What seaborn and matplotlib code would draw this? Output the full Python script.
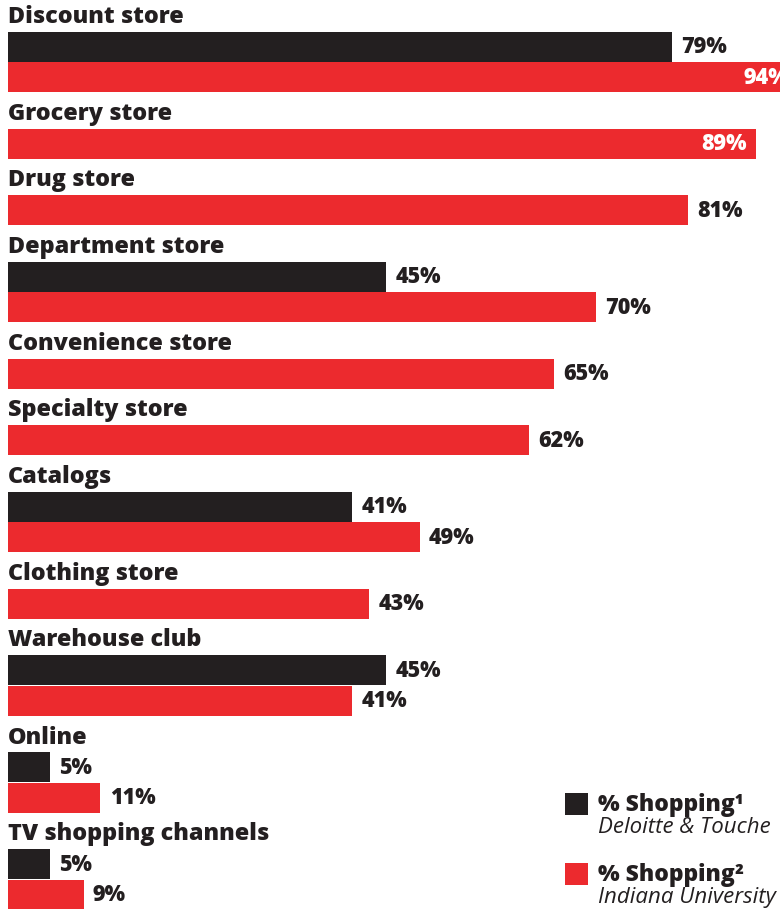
import numpy as np
import pandas as pd
import seaborn as sns
import matplotlib.pyplot as plt
from matplotlib.patches import Rectangle

# Where shoppers buy: share of respondents shopping at each channel
categories = ["Discount store", "Grocery store", "Drug store", "Department store",
              "Convenience store", "Specialty store", "Catalogs", "Clothing store",
              "Warehouse club", "Online", "TV shopping channels"]
deloitte = [79, None, None, 45, None, None, 41, None, 45, 5, 5]
indiana = [94, 89, 81, 70, 65, 62, 49, 43, 41, 11, 9]

series_names = ["Deloitte & Touche", "Indiana University"]
legend_titles = ["% Shopping\u00b9", "% Shopping\u00b2"]

DARK = "#231f20"
RED = "#ec2a2e"

# vertical layout in pixel units (top = 0)
W, H = 780, 909
TOP_TITLE = 15.0
PITCH = 30.5        # distance between bar centres within a group
BAR_H = 30.0
TITLE_TO_BAR = 16.5  # title centre to top of first bar
GROUP_GAP = 19.5     # bottom of last bar to next title centre

rows = []
title_y = []
cur = TOP_TITLE
for cat, d, r in zip(categories, deloitte, indiana):
    title_y.append(cur)
    y = cur + TITLE_TO_BAR + PITCH / 2
    for name, v in zip(series_names, (d, r)):
        if v is None:
            continue
        rows.append({"category": cat, "series": name, "value": v, "ypos": y})
        y += PITCH
    cur = y - PITCH / 2 + GROUP_GAP
df = pd.DataFrame(rows)

fig = plt.figure(figsize=(W / 100, H / 100), dpi=100)
ax = fig.add_axes([0, 0, 1, 1])

PX_PER_PCT = 8.4
LEFT = 8
ax.set_xlim(-LEFT / PX_PER_PCT, (W - LEFT) / PX_PER_PCT)

sns.barplot(data=df, x="value", y="ypos", hue="series", orient="h",
            native_scale=True, dodge=False, width=BAR_H / PITCH,
            palette={series_names[0]: DARK, series_names[1]: RED},
            saturation=1, linewidth=0, legend=False, ax=ax)

ax.set_ylim(H, 0)
ax.set_xlim(-LEFT / PX_PER_PCT, (W - LEFT) / PX_PER_PCT)
ax.axis("off")

FAM = ["Open Sans", "DejaVu Sans"]
WT = 800

for cat, ty in zip(categories, title_y):
    ax.text(0, ty + 8, cat, fontsize=16.8, fontweight=WT, family=FAM,
            color=DARK, ha="left", va="baseline")

for _, row in df.iterrows():
    v = row["value"]
    label = f"{v:.0f}%"
    if v >= 85:
        ax.text(v - 1.0, row["ypos"] + 0.5, label, fontsize=15.5, fontweight=WT,
                family=FAM, color="white", ha="right", va="center")
    else:
        ax.text(v + 1.1, row["ypos"] + 0.5, label, fontsize=15.5, fontweight=WT,
                family=FAM, color=DARK, ha="left", va="center")

# legend
for i, (color, title, src) in enumerate(zip((DARK, RED), legend_titles, series_names)):
    y0 = 793 + i * 70
    fig.patches.append(Rectangle((565 / W, 1 - (y0 + 22) / H), 23 / W, 22 / H,
                                 transform=fig.transFigure, facecolor=color,
                                 edgecolor="none"))
    fig.text(598 / W, 1 - (y0 + 18) / H, title, fontsize=16.5, fontweight=WT,
             family=FAM, color=DARK, ha="left", va="baseline")
    fig.text(598 / W, 1 - (y0 + 40) / H, src, fontsize=16, style="italic",
             family=FAM, color=DARK, ha="left", va="baseline")

fig.savefig("out.png", dpi=100)
